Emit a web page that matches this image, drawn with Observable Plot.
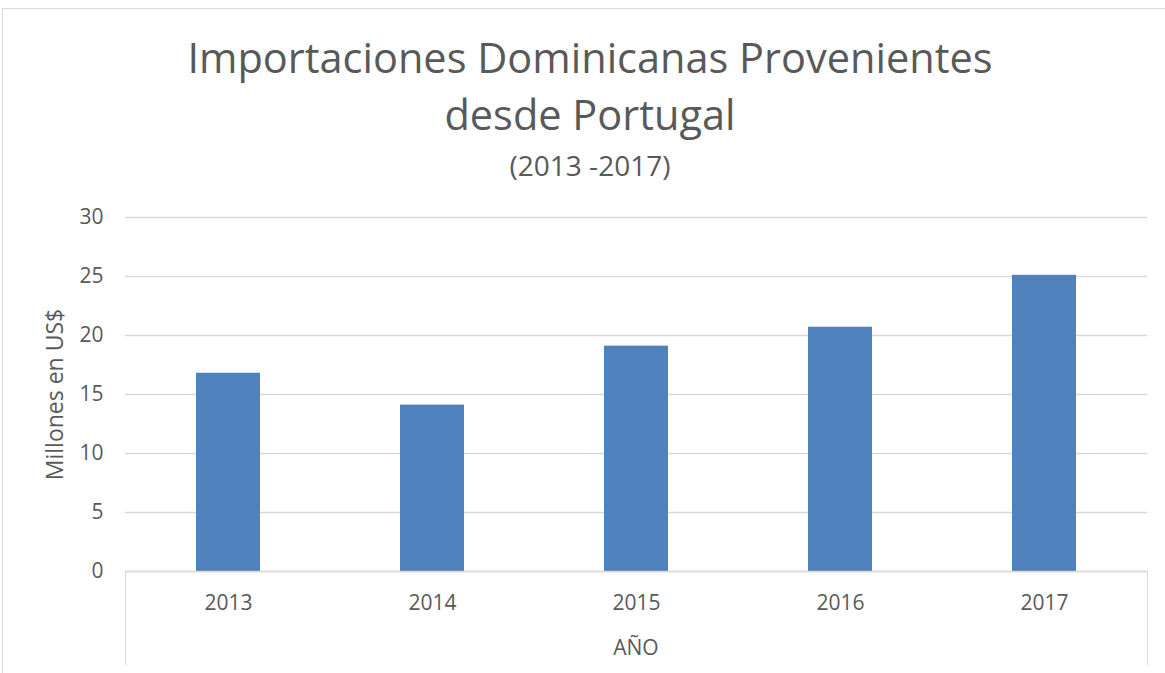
<!DOCTYPE html>
<html>
<head>
<meta charset="utf-8">
<script src="https://cdn.jsdelivr.net/npm/d3@7"></script>
<script src="https://cdn.jsdelivr.net/npm/@observablehq/plot@0.6"></script>
<style>
  html, body { margin: 0; padding: 0; background: #fff; }
  #wrap { position: relative; width: 1165px; height: 673px; overflow: hidden; font-family: "Open Sans", sans-serif; color: #595959; }
  .frame { position: absolute; left: 2px; top: 8px; width: 1200px; height: 700px; border: 1px solid #d9d9d9; box-sizing: border-box; }
  .t { position: absolute; left: 90px; width: 1000px; text-align: center; white-space: nowrap; }
  #title1, #title2 { font-size: 41.5px; line-height: 41.5px; }
  #title1 { top: 36.5px; }
  #title2 { top: 93.5px; }
  #sub { font-size: 28px; line-height: 28px; top: 151px; }
  #ylab { position: absolute; left: -96px; top: 383px; width: 300px; height: 23px; font-size: 23px; line-height: 23px; text-align: center; transform: rotate(-90deg); transform-origin: 150px 11.5px; white-space: nowrap; }
  #xlab { position: absolute; left: 125px; width: 1022px; top: 637px; font-size: 21px; line-height: 21px; text-align: center; }
  #catbox { position: absolute; left: 125px; top: 571px; width: 1023px; height: 94px; border: 1.5px solid #d9d9d9; border-bottom: none; border-top: none; box-sizing: border-box; }
  #chart { position: absolute; left: 0; top: 200px; }
</style>
</head>
<body>
<div id="wrap">
  <div class="frame"></div>
  <div class="t" id="title1">Importaciones Dominicanas Provenientes</div>
  <div class="t" id="title2">desde Portugal</div>
  <div class="t" id="sub">(2013 -2017)</div>
  <div id="catbox"></div>
  <div id="ylab">Millones en US$</div>
  <div id="xlab">AÑO</div>
  <div id="chart"></div>
</div>
<script>
const years = ["2013", "2014", "2015", "2016", "2017"];
const values = [16.8, 14.1, 19.1, 20.7, 25.1];
const yTicks = [0, 5, 10, 15, 20, 25, 30];

const data = years.map((year, i) => ({year, value: values[i]}));

const chart = Plot.plot({
  width: 1165,
  height: 473,
  marginLeft: 125,
  marginRight: 18,
  marginTop: 17,
  marginBottom: 102,
  style: {fontFamily: "'Open Sans', sans-serif", fontSize: "21px", color: "#595959", background: "transparent", overflow: "visible"},
  x: {domain: years, paddingInner: 0.687, paddingOuter: 0.3435, label: null},
  y: {domain: [0, 30], label: null},
  marks: [
    Plot.gridY(yTicks, {stroke: "#d9d9d9", strokeOpacity: 1, strokeWidth: 1.5}),
    Plot.barY(data, {x: "year", y: "value", fill: "#4F81BD"}),
    Plot.ruleY([0], {stroke: "#d9d9d9", strokeWidth: 1.5}),
    Plot.axisY(yTicks, {tickSize: 0, tickPadding: 22, fill: "#595959", label: null}),
    Plot.axisX({tickSize: 0, tickPadding: 24, fill: "#595959", label: null})
  ]
});
document.getElementById("chart").appendChild(chart);
</script>
</body>
</html>
